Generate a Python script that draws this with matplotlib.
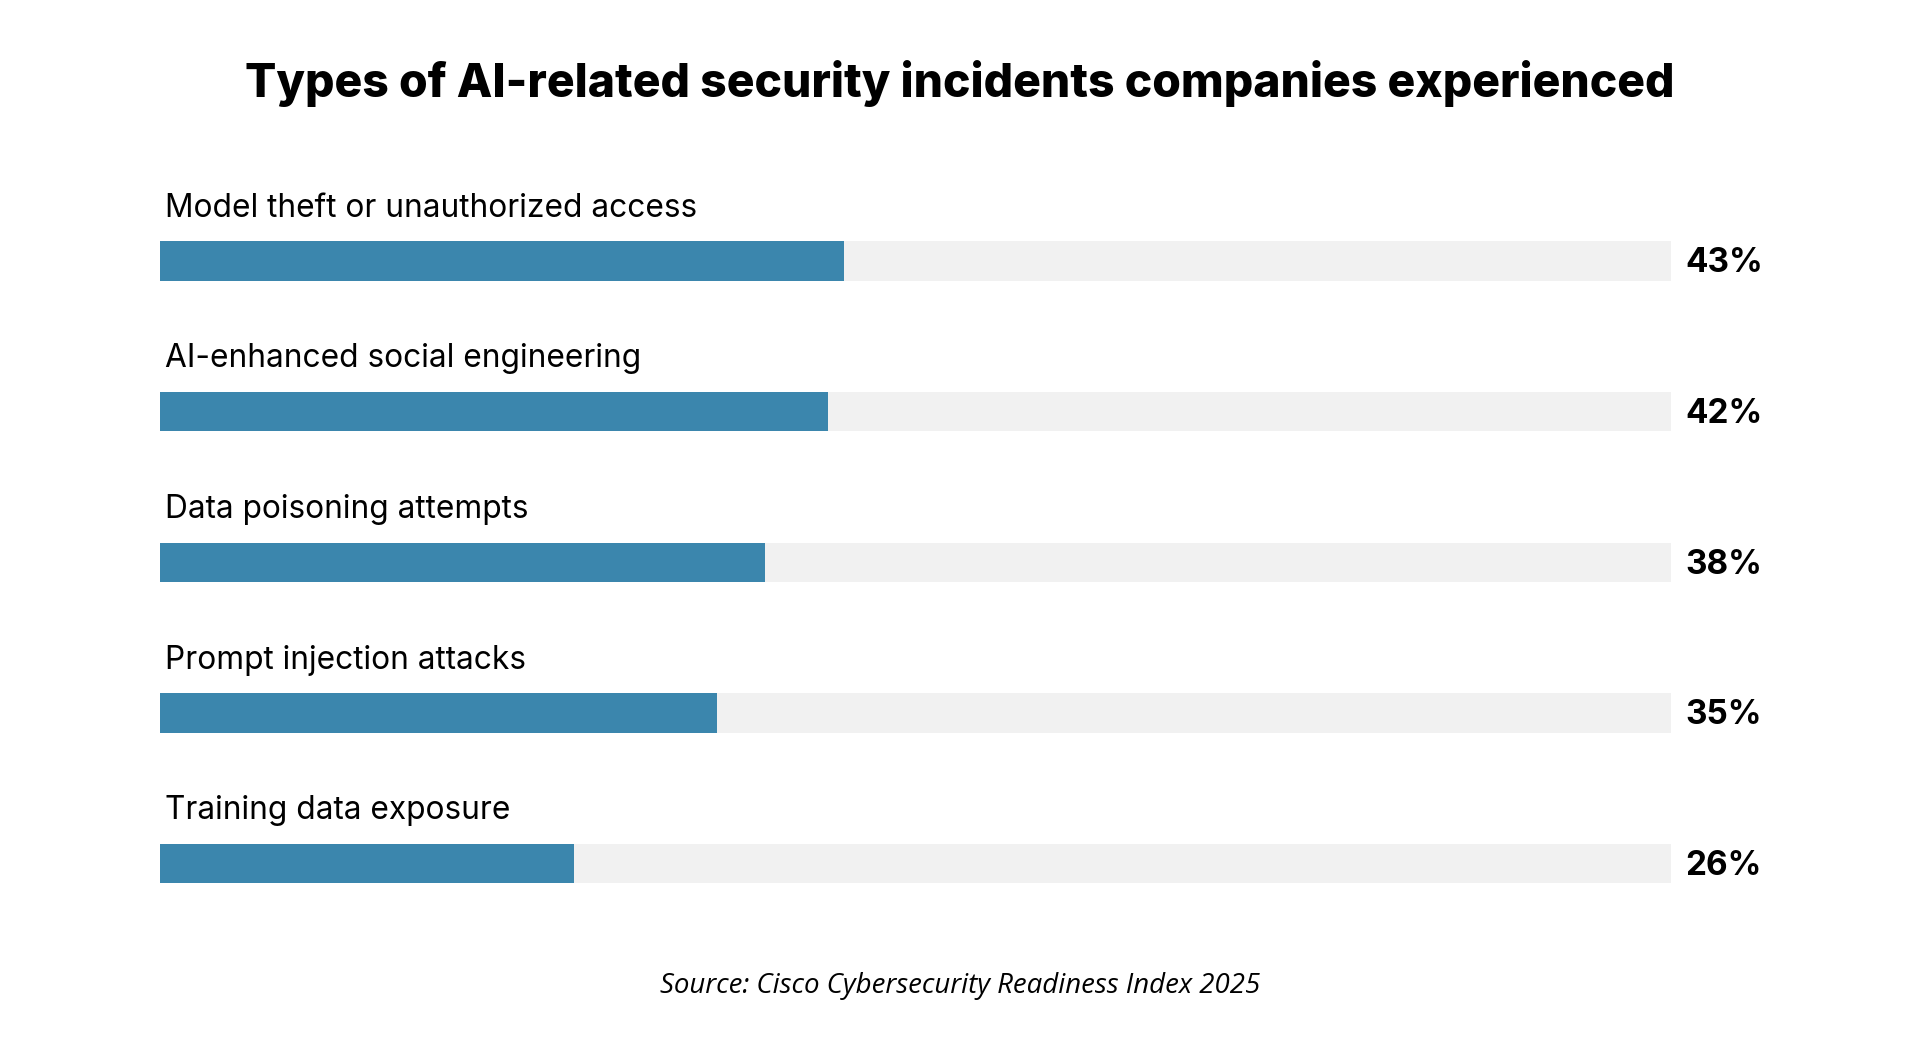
import matplotlib.pyplot as plt

# data
categories = [
    "Model theft or unauthorized access",
    "AI-enhanced social engineering",
    "Data poisoning attempts",
    "Prompt injection attacks",
    "Training data exposure",
]
values = [43, 42, 38, 35, 26]
title = "Types of AI-related security incidents companies experienced"
source = "Source: Cisco Cybersecurity Readiness Index 2025"

BLUE = "#3b86ad"
TRACK = "#f1f1f1"
XMAX = 95  # grey track fills the whole axis width

plt.rcParams["font.family"] = ["Inter", "DejaVu Sans"]

fig = plt.figure(figsize=(19.2, 10.61), dpi=100)
fig.patch.set_facecolor("white")

# axes spans the track area, one unit per row
ax = fig.add_axes([0.0835, 0.1150, 0.7870, 0.7100])
ypos = list(range(len(categories)))
ax.barh(ypos, [XMAX] * len(values), height=0.26, color=TRACK, linewidth=0)
ax.barh(ypos, values, height=0.26, color=BLUE, linewidth=0)

for y, cat, v in zip(ypos, categories, values):
    ax.text(0.3, y - 0.295, cat, fontsize=22.8, va="baseline", ha="left", color="black")
    ax.text(XMAX * 1.0095, y + 0.015, f"{v}%", fontsize=24, fontweight="bold",
            va="center", ha="left", color="black")

ax.set_xlim(0, XMAX)
ax.set_ylim(len(categories) - 0.5, -0.5)
ax.axis("off")

fig.text(0.5, 0.9215, title, fontsize=33.3, fontweight="heavy", ha="center", va="center", color="black")
fig.text(0.5, 0.0705, source, fontsize=19.9, style="italic", ha="center", va="center", color="black",
         family=["Open Sans", "DejaVu Sans"])

fig.savefig("out.png", dpi=100, facecolor="white")
